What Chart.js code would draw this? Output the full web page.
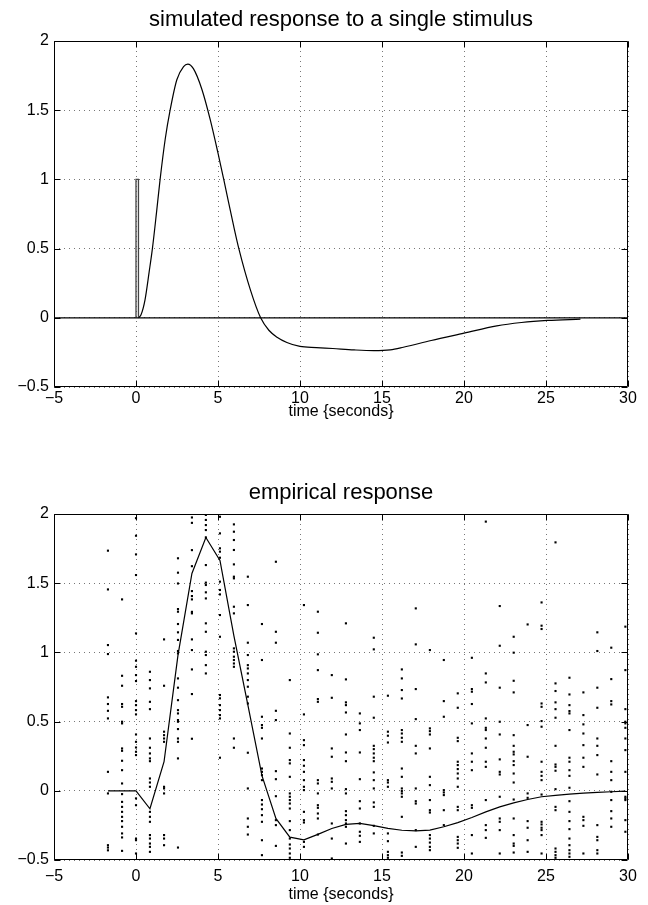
<!DOCTYPE html>
<html>
<head>
<meta charset="utf-8">
<title>simulated and empirical response</title>
<script src="https://cdn.jsdelivr.net/npm/chart.js@4.4.1/dist/chart.umd.min.js"></script>
<style>
    body { margin: 0; background: #fff; }
    canvas { display: block; }
</style>
</head>
<body>

<canvas id="simChart" width="648" height="430"></canvas>
<canvas id="empChart" width="648" height="475"></canvas>

<script>
const xTicks = [-5, 0, 5, 10, 15, 20, 25, 30];
const yTicks = [-0.5, 0, 0.5, 1, 1.5, 2];

// stimulus box (top plot)
const stimTime = [0, 0, 0.15, 0.15];
const stimValue = [0, 1, 1, 0];

// simulated response (top plot)
const simTime = [0.15, 0.3, 0.55, 0.8, 1.0, 1.25, 1.47, 1.78, 2.08, 2.49, 2.9, 3.16, 3.5, 4.02, 4.53, 5.0, 5.35, 5.96, 6.27, 6.98, 7.6, 8.1, 8.6, 9.2, 10.0, 11.0, 12.0, 13.3, 14.5, 15.5, 16.3, 18.0, 20.0, 22.0, 23.5, 25.1, 27.1];
const simValue = [0, 0.02, 0.13, 0.33, 0.5, 0.76, 1.0, 1.29, 1.5, 1.72, 1.815, 1.833, 1.8, 1.65, 1.43, 1.19, 1.0, 0.66, 0.5, 0.2, 0, -0.09, -0.14, -0.178, -0.207, -0.215, -0.222, -0.232, -0.237, -0.232, -0.213, -0.164, -0.111, -0.058, -0.034, -0.019, -0.01];

// empirical response (bottom plot)
const sampleTimes = [-1.71, -0.85, 0, 0.85, 1.71, 2.56, 3.41, 4.26, 5.12, 5.97, 6.82, 7.68, 8.53, 9.38, 10.24, 11.09, 11.94, 12.8, 13.65, 14.5, 15.36, 16.21, 17.06, 17.92, 18.77, 19.62, 20.48, 21.33, 22.18, 23.03, 23.88, 24.73, 25.58, 26.43, 27.28, 28.13, 28.98, 29.84];
const meanResponse = [0, 0, 0, -0.13, 0.21, 0.98, 1.57, 1.83, 1.665, 1.12, 0.62, 0.11, -0.2, -0.335, -0.355, -0.315, -0.272, -0.243, -0.236, -0.252, -0.272, -0.285, -0.29, -0.284, -0.26, -0.23, -0.193, -0.152, -0.116, -0.087, -0.063, -0.043, -0.033, -0.024, -0.017, -0.012, -0.007, -0.002];

const trialValues = [
    [1.735, 1.455, 1.053, 0.988, 0.675, 0.627, 0.578, 0.523, 0.137, -0.019, -0.393, -0.41, -0.43],
    [1.383, 0.831, 0.759, 0.627, 0.607, 0.499, 0.487, 0.306, 0.289, 0.217, 0.149, 0.053, -0.024, -0.08, -0.116, -0.152, -0.188, -0.219, -0.26, -0.308, -0.337, -0.434],
    [1.97, 1.843, 1.708, 1.559, 1.137, 0.94, 0.896, 0.836, 0.793, 0.648, 0.619, 0.583, 0.552, 0.407, 0.354, 0.313, 0.282, 0.258, -0.055, -0.104, -0.345, -0.357, -0.453],
    [0.86, 0.8, 0.74, 0.643, 0.59, 0.378, 0.311, 0.27, 0.234, 0.214, 0.089, 0.06, 0.029, -0.152, -0.188, -0.224, -0.32, -0.345, -0.381, -0.405, -0.441],
    [1.094, 0.759, 0.427, 0.402, 0.378, 0.354, 0.029, 0.017, -0.019, -0.32, -0.345, -0.393],
    [1.68, 1.576, 1.498, 1.313, 1.294, 1.205, 1.145, 1.09, 1.01, 0.993, 0.812, 0.745, 0.655, 0.583, 0.559, 0.511, 0.499, 0.446, 0.378, 0.354, 0.234, -0.41],
    [1.975, 1.936, 1.739, 1.623, 1.443, 1.407, 1.383, 1.293, 1.282, 1.094, 1.017, 0.877, 0.699, 0.376],
    [1.993, 1.957, 1.92, 1.884, 1.831, 1.631, 1.504, 1.487, 1.434, 1.39, 1.21, 1.149, 1.005, 0.981, 0.908, 0.848],
    [1.98, 1.86, 1.752, 1.728, 1.684, 1.511, 1.451, 1.419, 1.27, 1.113, 0.692, 0.668, 0.619, 0.583, 0.547, 0.523, 0.239],
    [1.925, 1.872, 1.812, 1.74, 1.636, 1.547, 1.535, 1.33, 1.282, 1.029, 1.005, 0.969, 0.945, 0.92, 0.896, 0.378, 0.311],
    [1.547, 1.342, 1.07, 0.981, 0.908, 0.884, 0.848, 0.8, 0.752, 0.68, 0.631, 0.275, 0.017, -0.2, -0.26, -0.316],
    [1.205, 0.945, 0.535, 0.475, 0.455, 0.378, 0.161, 0.137, 0.113, 0.077, -0.067, -0.099, -0.133, -0.176, -0.224, -0.357, -0.465],
    [1.655, 1.149, 1.07, 0.578, 0.511, 0.142, 0.084, -0.039, -0.212, -0.248, -0.398],
    [0.8, 0.414, 0.311, 0.222, 0.198, 0.101, -0.019, -0.043, -0.067, -0.092, -0.128, -0.219, -0.284, -0.345, -0.388, -0.417, -0.453, -0.484],
    [1.342, 0.552, 0.366, 0.33, 0.222, 0.181, 0.137, 0.077, 0.029, 0.005, -0.152, -0.212, -0.229, -0.369, -0.405],
    [1.294, 1.142, 0.986, 0.872, 0.663, 0.643, 0.077, 0.053, -0.019, -0.104, -0.123, -0.164, -0.2, -0.316],
    [0.836, 0.672, 0.306, 0.246, 0.089, 0.065, 0.017, -0.236, -0.345, -0.489],
    [1.21, 0.805, 0.639, 0.619, 0.566, 0.407, 0.277, 0.214, 0.012, -0.019, -0.147, -0.176, -0.212, -0.236, -0.26, -0.381],
    [0.559, 0.487, 0.439, 0.277, 0.084, -0.075, -0.128, -0.236, -0.296, -0.325, -0.369],
    [1.106, 1.022, 0.68, 0.528, 0.325, 0.301, 0.27, 0.239, 0.214, 0.133, 0.077, 0.017, -0.084, -0.116, -0.253, -0.308],
    [0.687, 0.427, 0.398, 0.349, 0.077, 0.06, 0.029, -0.308, -0.364, -0.441, -0.465, -0.484],
    [0.877, 0.812, 0.728, 0.667, 0.439, 0.414, 0.383, 0.354, 0.161, 0.101, 0.017, -0.002, -0.019, -0.043, -0.188, -0.446, -0.47],
    [1.318, 1.058, 0.735, 0.518, 0.325, 0.27, 0.017, -0.075, -0.092, -0.284, -0.405],
    [1.017, 0.451, 0.431, 0.407, 0.306, 0.101, 0.041, -0.067, -0.14, -0.157, -0.32, -0.345, -0.374, -0.405, -0.429],
    [0.945, 0.648, 0.535, 0.005, -0.012, -0.031, -0.14, -0.248],
    [0.704, 0.6, 0.383, 0.359, 0.21, 0.186, 0.157, 0.125, 0.089, 0.029, -0.116, -0.14, -0.333, -0.357, -0.381, -0.412],
    [0.961, 0.735, 0.716, 0.627, 0.487, 0.27, 0.21, 0.149, -0.104, -0.123, -0.32, -0.453],
    [1.945, 0.848, 0.783, 0.523, 0.455, 0.439, 0.378, 0.311, 0.21, 0.173, -0.067, -0.248, -0.284, -0.34],
    [1.335, 1.048, 0.745, 0.499, 0.407, 0.227, 0.137, 0.118, -0.043, -0.2, -0.224, -0.284, -0.453],
    [1.113, 0.998, 0.795, 0.711, 0.402, 0.325, 0.282, 0.263, 0.214, 0.186, 0.125, 0.06, -0.063, -0.2, -0.32, -0.381, -0.398, -0.446],
    [1.202, 0.475, 0.246, -0.019, -0.051, -0.219, -0.267, -0.357, -0.441],
    [1.361, 1.193, 1.169, 0.631, 0.607, 0.504, 0.463, 0.21, 0.137, 0.108, 0.077, -0.027, -0.224, -0.243, -0.267, -0.284, -0.32, -0.453],
    [1.795, 0.776, 0.721, 0.639, 0.59, 0.528, 0.325, 0.19, 0.173, 0.145, 0.012, -0.116, -0.14, -0.417, -0.441, -0.465, -0.484],
    [0.817, 0.696, 0.619, 0.576, 0.559, 0.439, 0.239, 0.21, 0.149, 0.108, 0.022, -0.075, -0.152, -0.219, -0.277, -0.345, -0.393, -0.429, -0.453, -0.477],
    [0.711, 0.547, 0.48, 0.414, 0.33, 0.239, 0.173, -0.188, -0.212, -0.253, -0.453],
    [1.145, 1.01, 0.745, 0.6, 0.378, 0.325, 0.258, 0.118, -0.248, -0.333, -0.357, -0.429, -0.453],
    [1.034, 0.807, 0.648, 0.624, 0.214, 0.137, 0.077, -0.007, -0.067, -0.147, -0.2, -0.26],
    [1.186, 0.872, 0.59, 0.499, 0.487, 0.455, 0.378, 0.294, 0.137, -0.043, -0.055, -0.067, -0.212, -0.296]
];

const FONT = "'Liberation Sans', Arial, Helvetica, sans-serif";

function toPoints(xs, ys) {
    return xs.map((x, i) => ({ x: x, y: ys[i] }));
}

// box round the plot and the small inward ticks, like matlab
const framePlugin = {
    id: "frame",
    afterDraw(chart) {
        const { ctx, chartArea: a, scales } = chart;
        const L = Math.round(a.left) + 0.5;
        const R = Math.round(a.right) - 0.5;
        const T = Math.round(a.top) + 0.5;
        const B = Math.round(a.bottom) - 0.5;

        ctx.save();
        ctx.strokeStyle = "#000";
        ctx.lineWidth = 1;
        ctx.beginPath();
        ctx.rect(L, T, R - L, B - T);

        xTicks.forEach(v => {
            const x = Math.round(scales.x.getPixelForValue(v)) + 0.5;
            ctx.moveTo(x, B); ctx.lineTo(x, B - 6);
            ctx.moveTo(x, T); ctx.lineTo(x, T + 6);
        });
        yTicks.forEach(v => {
            const y = Math.round(scales.y.getPixelForValue(v)) + 0.5;
            ctx.moveTo(L, y); ctx.lineTo(L + 6, y);
            ctx.moveTo(R, y); ctx.lineTo(R - 6, y);
        });
        ctx.stroke();
        ctx.restore();
    }
};

// title centred over the plot area
const plotTitlePlugin = {
    id: "plotTitle",
    afterDraw(chart, args, opts) {
        const { ctx, chartArea: a } = chart;
        ctx.save();
        ctx.font = "22px " + FONT;
        ctx.fillStyle = "#000";
        ctx.textAlign = "center";
        ctx.textBaseline = "alphabetic";
        ctx.fillText(opts.text, (a.left + a.right) / 2, a.top - 15);
        ctx.restore();
    }
};

function makeScales(tickPad, titlePad, xHeight) {
    return {
        x: {
            type: "linear",
            min: -5,
            max: 30,
            afterBuildTicks: s => { s.ticks = xTicks.map(v => ({ value: v })); },
            afterFit: s => { s.height = xHeight; },
            grid: { color: "#777", lineWidth: 1, drawTicks: false },
            border: { display: false, dash: [1, 4] },
            ticks: {
                color: "#000",
                padding: tickPad,
                maxRotation: 0,
                font: { family: FONT, size: 16 },
                callback: v => String(v).replace("-", "\u2212")
            },
            title: {
                display: true,
                text: "time {seconds}",
                color: "#000",
                font: { family: FONT, size: 16 },
                padding: { top: 0, bottom: titlePad }
            }
        },
        y: {
            type: "linear",
            min: -0.5,
            max: 2,
            afterBuildTicks: s => { s.ticks = yTicks.map(v => ({ value: v })); },
            afterFit: s => { s.width = 54; },
            grid: { color: "#777", lineWidth: 1, drawTicks: false },
            border: { display: false, dash: [1, 4] },
            ticks: {
                color: "#000",
                padding: 5,
                font: { family: FONT, size: 16 },
                callback: v => String(v).replace("-", "\u2212")
            }
        }
    };
}

function renderSimulated() {
    new Chart(document.getElementById("simChart"), {
        type: "scatter",
        data: {
            datasets: [
                {
                    data: toPoints([-5, 30], [0, 0]),
                    showLine: true,
                    borderColor: "#000",
                    borderWidth: 1.2,
                    pointRadius: 0
                },
                {
                    data: toPoints(stimTime, stimValue),
                    showLine: true,
                    borderColor: "#444",
                    borderWidth: 1.3,
                    pointRadius: 0
                },
                {
                    data: toPoints(simTime, simValue),
                    showLine: true,
                    borderColor: "#000",
                    borderWidth: 1.2,
                    pointRadius: 0,
                    cubicInterpolationMode: "monotone"
                }
            ]
        },
        options: {
            responsive: false,
            animation: false,
            devicePixelRatio: 1,
            layout: { padding: { top: 41, right: 20, left: 0, bottom: 0 } },
            plugins: {
                legend: { display: false },
                tooltip: { enabled: false },
                plotTitle: { text: "simulated response to a single stimulus" }
            },
            scales: makeScales(2, 9, 43)
        },
        plugins: [framePlugin, plotTitlePlugin]
    });
}

function renderEmpirical() {
    const dots = [];
    trialValues.forEach((col, i) => {
        col.forEach(v => dots.push({ x: sampleTimes[i], y: v }));
    });

    new Chart(document.getElementById("empChart"), {
        type: "scatter",
        data: {
            datasets: [
                {
                    data: dots,
                    pointStyle: "rect",
                    pointRadius: 1.5,
                    borderWidth: 0,
                    backgroundColor: "#000"
                },
                {
                    data: toPoints(sampleTimes, meanResponse),
                    showLine: true,
                    borderColor: "#000",
                    borderWidth: 1.2,
                    pointRadius: 0
                }
            ]
        },
        options: {
            responsive: false,
            animation: false,
            devicePixelRatio: 1,
            layout: { padding: { top: 84, right: 20, left: 0, bottom: 0 } },
            plugins: {
                legend: { display: false },
                tooltip: { enabled: false },
                plotTitle: { text: "empirical response" }
            },
            scales: makeScales(7, 1, 45)
        },
        plugins: [framePlugin, plotTitlePlugin]
    });
}

renderSimulated();
renderEmpirical();
</script>
</body>
</html>
